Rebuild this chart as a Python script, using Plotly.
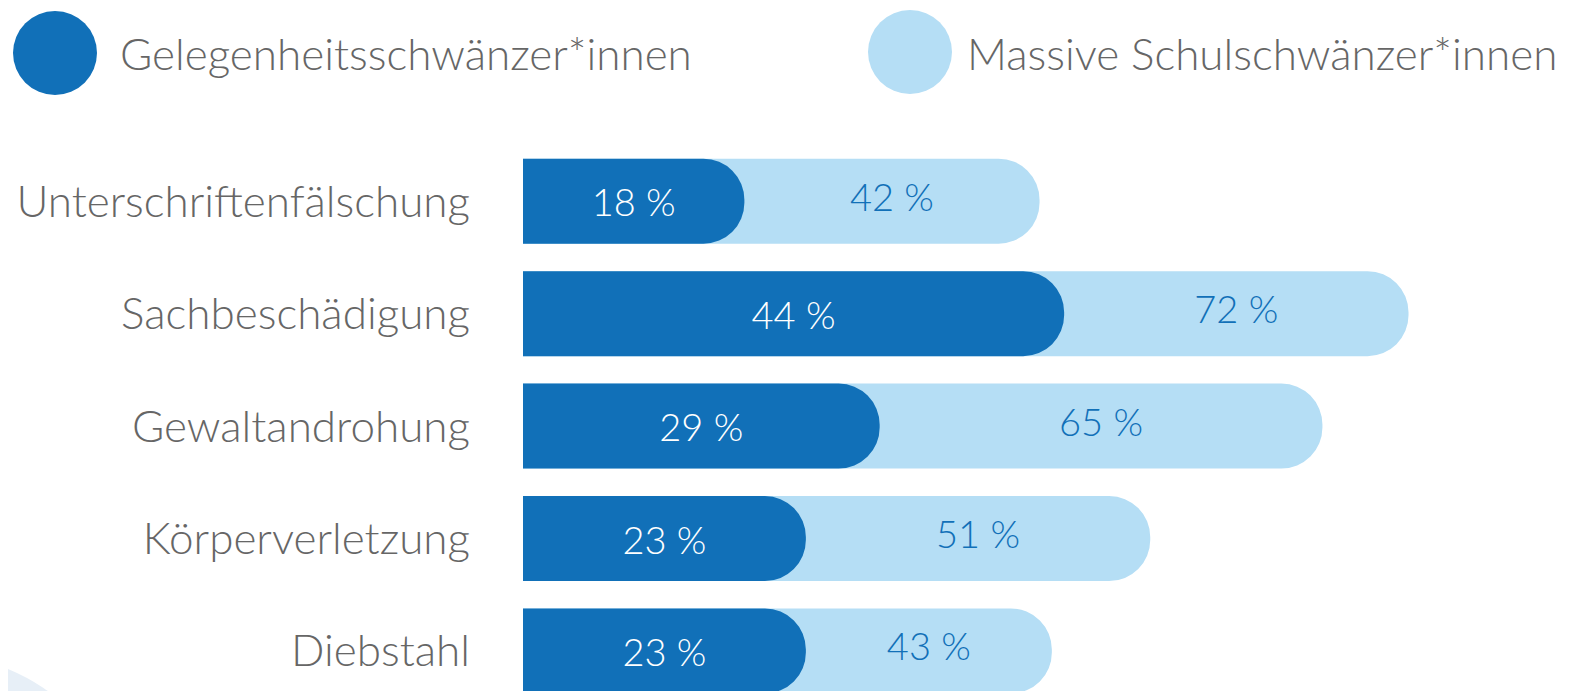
import plotly.graph_objects as go

categories = ["Unterschriftenfälschung", "Sachbeschädigung", "Gewaltandrohung",
              "Körperverletzung", "Diebstahl"]
gelegenheit = [18, 44, 29, 23, 23]
massiv = [42, 72, 65, 51, 43]
series_names = ["Gelegenheitsschwänzer*innen", "Massive Schulschwänzer*innen"]

DARK = "#1170B8"
LIGHT = "#B5DEF5"
GRAY = "#666666"
FONT = "Lato"

OFF = 8  # page body margin
W, H = 1593 - OFF, 691 - OFF
ML, MT = 523 - OFF, 145 - OFF
PW, PH = W - ML, H - MT


def px_x(px):  # page pixel -> paper
    return (px - OFF - ML) / PW


def px_y(py):
    return (H - (py - OFF)) / PH


fig = go.Figure()

fig.add_trace(go.Bar(
    y=categories, x=massiv, orientation="h", name=series_names[1],
    marker=dict(color=LIGHT, cornerradius=41, line=dict(width=0)),
    width=0.756, hoverinfo="x+y", showlegend=False,
    xaxis="x", yaxis="y",
))
fig.add_trace(go.Bar(
    y=categories, x=gelegenheit, orientation="h", name=series_names[0],
    marker=dict(color=DARK, cornerradius=41, line=dict(width=0)),
    width=0.756, text=[f"{v} %" for v in gelegenheit],
    textposition="inside", insidetextanchor="middle", constraintext="none",
    textfont=dict(family=FONT, size=38, color="white", weight=300),
    hoverinfo="x+y", showlegend=False,
    xaxis="x2", yaxis="y2",
))
fig.add_trace(go.Scatter(
    y=categories, x=[(g + m) / 2 for g, m in zip(gelegenheit, massiv)],
    mode="text", text=[f"{v} %" for v in massiv], textposition="middle center",
    textfont=dict(family=FONT, size=38, color=DARK, weight=300),
    hoverinfo="skip", showlegend=False,
    xaxis="x2", yaxis="y2",
))

shapes = [
    dict(type="circle", xref="paper", yref="paper", xsizemode="pixel", ysizemode="pixel",
         xanchor=px_x(-68), yanchor=px_y(854), x0=-200, x1=200, y0=-200, y1=200,
         fillcolor="#E7EFF7", line=dict(width=0), layer="below"),
    dict(type="circle", xref="paper", yref="paper", xsizemode="pixel", ysizemode="pixel",
         xanchor=px_x(55), yanchor=px_y(53), x0=-42, x1=42, y0=-42, y1=42,
         fillcolor=DARK, line=dict(width=0)),
    dict(type="circle", xref="paper", yref="paper", xsizemode="pixel", ysizemode="pixel",
         xanchor=px_x(910), yanchor=px_y(52), x0=-42, x1=42, y0=-42, y1=42,
         fillcolor=LIGHT, line=dict(width=0)),
]

annotations = [
    dict(text=series_names[0], xref="paper", yref="paper", x=px_x(118), y=px_y(53),
         xanchor="left", yanchor="middle", showarrow=False,
         font=dict(family=FONT, size=44, color=GRAY, weight=300)),
    dict(text=series_names[1], xref="paper", yref="paper", x=px_x(965), y=px_y(53),
         xanchor="left", yanchor="middle", showarrow=False,
         font=dict(family=FONT, size=44, color=GRAY, weight=300)),
]

XR = [0, 87]
YR = [4.356, -0.5]

fig.update_layout(
    width=W, height=H,
    margin=dict(l=ML, r=0, t=MT, b=0, pad=0),
    paper_bgcolor="white", plot_bgcolor="rgba(0,0,0,0)",
    barmode="overlay",
    shapes=shapes, annotations=annotations,
    xaxis=dict(range=XR, visible=False, fixedrange=True),
    yaxis=dict(type="category", categoryorder="array", categoryarray=categories,
               range=YR, showgrid=False, zeroline=False, showline=False,
               ticks="", ticklabelstandoff=52,
               tickfont=dict(family=FONT, size=44, color=GRAY, weight=300),
               fixedrange=True),
    xaxis2=dict(range=XR, visible=False, fixedrange=True, overlaying="x"),
    yaxis2=dict(type="category", categoryorder="array", categoryarray=categories,
                range=YR, visible=False, overlaying="y", fixedrange=True),
    showlegend=False,
)

fig.write_html("out.html")
